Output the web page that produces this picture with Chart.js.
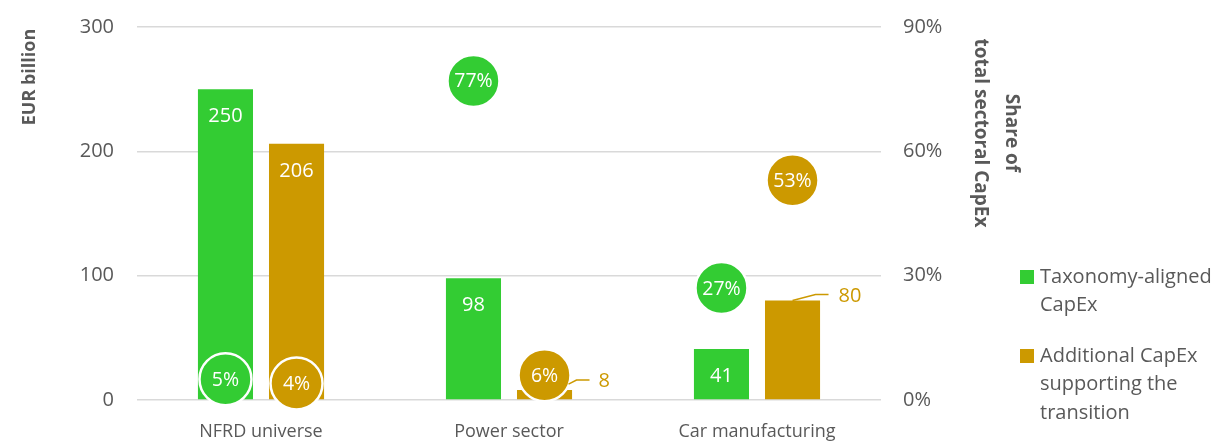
<!DOCTYPE html>
<html>
<head>
<meta charset="utf-8">
<script src="https://cdn.jsdelivr.net/npm/chart.js@4.4.1/dist/chart.umd.min.js"></script>
<style>
  html, body { margin: 0; padding: 0; background: #fff; overflow: hidden; }
  #wrap { position: relative; width: 1220px; height: 460px; }
</style>
</head>
<body>
<div id="wrap"><canvas id="c"></canvas></div>
<script>
// ---- data ----
const categories = ['NFRD universe', 'Power sector', 'Car manufacturing'];
const alignedCapex = [250, 98, 41];          // EUR billion
const additionalCapex = [206, 8, 80];        // EUR billion
const alignedShare = [5, 77, 27];            // % of total sectoral CapEx
const additionalShare = [4, 6, 53];          // % of total sectoral CapEx
const leftTicks = [0, 100, 200, 300];
const rightTicks = [0, 30, 60, 90];
const seriesNames = ['Taxonomy-aligned CapEx', 'Additional CapEx supporting the transition'];

// ---- style ----
const GREEN = '#33CC33';
const GOLD = '#CC9900';
const GREY = '#595959';
const GRID = '#D9D9D9';
const FONT = '"Open Sans", "Noto Sans", sans-serif';

// outside labels with leader lines (dataset index -> data index -> leader shape, px offsets)
const outsideLabels = {
  1: {
    1: { pts: [[24, -6], [32, -10], [45, -10]], text: [54, -9] },
    2: { pts: [[0, 0], [23, -6], [36, -6]], text: [46, -4] }
  }
};

const shareToBar = [[2, 0], [3, 1]];

const alignPlugin = {
  id: 'alignShares',
  afterDatasetsUpdate(chart) {
    shareToBar.forEach(([p, b]) => {
      const pm = chart.getDatasetMeta(p), bm = chart.getDatasetMeta(b);
      pm.data.forEach((pt, i) => { pt.x = bm.data[i].x; });
    });
  }
};

const labelPlugin = {
  id: 'labels',
  afterDatasetsDraw(chart) {
    const ctx = chart.ctx;
    ctx.save();
    // bar labels
    [0, 1].forEach(di => {
      const meta = chart.getDatasetMeta(di);
      const ds = chart.data.datasets[di];
      meta.data.forEach((bar, i) => {
        const val = ds.data[i];
        const out = outsideLabels[di] && outsideLabels[di][i];
        ctx.font = '20px ' + FONT;
        ctx.textBaseline = 'middle';
        if (out) {
          ctx.strokeStyle = ds.backgroundColor;
          ctx.lineWidth = 1.5;
          ctx.beginPath();
          out.pts.forEach(([dx, dy], k) => {
            if (k === 0) ctx.moveTo(bar.x + dx, bar.y + dy); else ctx.lineTo(bar.x + dx, bar.y + dy);
          });
          ctx.stroke();
          ctx.fillStyle = ds.backgroundColor;
          ctx.textAlign = 'left';
          ctx.fillText(String(val), bar.x + out.text[0], bar.y + out.text[1]);
        } else {
          ctx.fillStyle = '#fff';
          ctx.textAlign = 'center';
          ctx.fillText(String(val), bar.x, bar.y + 27);
        }
      });
    });
    // share labels
    [2, 3].forEach(di => {
      const meta = chart.getDatasetMeta(di);
      const ds = chart.data.datasets[di];
      meta.data.forEach((pt, i) => {
        ctx.font = '19.5px ' + FONT;
        ctx.fillStyle = '#fff';
        ctx.textAlign = 'center';
        ctx.textBaseline = 'middle';
        ctx.fillText(ds.data[i] + '%', pt.x, pt.y + 1);
      });
    });
    ctx.restore();
  }
};

const decorPlugin = {
  id: 'decor',
  afterDraw(chart) {
    const ctx = chart.ctx;
    ctx.save();
    ctx.fillStyle = GREY;
    // left axis title
    ctx.font = 'bold 18px ' + FONT;
    ctx.textAlign = 'center';
    ctx.textBaseline = 'middle';
    ctx.save();
    ctx.translate(30, 77);
    ctx.rotate(-Math.PI / 2);
    ctx.fillText('EUR billion', 0, 0);
    ctx.restore();
    // right axis title (two lines, rotated clockwise)
    ctx.font = 'bold 19px ' + FONT;
    ctx.save();
    ctx.translate(996, 133);
    ctx.rotate(Math.PI / 2);
    ctx.fillText('Share of', 0, -15);
    ctx.fillText('total sectoral CapEx', 0, 16);
    ctx.restore();
    // legend
    const legend = [
      { color: GREEN, lines: ['Taxonomy-aligned', 'CapEx'], y: 277 },
      { color: GOLD, lines: ['Additional CapEx', 'supporting the', 'transition'], y: 356 }
    ];
    ctx.font = '20px ' + FONT;
    ctx.textAlign = 'left';
    legend.forEach(item => {
      ctx.fillStyle = item.color;
      ctx.fillRect(1020, item.y - 7, 14, 14);
      ctx.fillStyle = GREY;
      item.lines.forEach((ln, k) => ctx.fillText(ln, 1040, item.y + k * 28.5));
    });
    ctx.restore();
  }
};

function fixVertical(width) {
  return function (s) { s.width = width; s.paddingTop = 0; s.paddingBottom = 0; };
}

new Chart(document.getElementById('c'), {
  data: {
    labels: categories,
    datasets: [
      { type: 'bar', label: seriesNames[0], data: alignedCapex, backgroundColor: GREEN, yAxisID: 'y', order: 2,
        categoryPercentage: 0.573, barPercentage: 0.775, borderWidth: 0 },
      { type: 'bar', label: seriesNames[1], data: additionalCapex, backgroundColor: GOLD, yAxisID: 'y', order: 2,
        categoryPercentage: 0.573, barPercentage: 0.775, borderWidth: 0 },
      { type: 'line', label: seriesNames[0] + ' share', data: alignedShare, yAxisID: 'y1', order: 0, showLine: false,
        pointRadius: 26, pointBackgroundColor: GREEN, pointBorderColor: '#fff', pointBorderWidth: 2.5, clip: false,
        backgroundColor: GREEN },
      { type: 'line', label: seriesNames[1] + ' share', data: additionalShare, yAxisID: 'y1', order: 0, showLine: false,
        pointRadius: 26, pointBackgroundColor: GOLD, pointBorderColor: '#fff', pointBorderWidth: 2.5, clip: false,
        backgroundColor: GOLD }
    ]
  },
  options: {
    responsive: true,
    maintainAspectRatio: false,
    animation: false,
    events: [],
    layout: { autoPadding: false, padding: { left: 0, right: 0, top: 27, bottom: 0 } },
    plugins: { legend: { display: false }, tooltip: { enabled: false } },
    scales: {
      x: {
        grid: { display: false, drawTicks: false },
        border: { display: false },
        ticks: { color: GREY, font: { family: FONT, size: 18 }, padding: 21, maxRotation: 0 },
        afterFit(s) { s.height = 60; }
      },
      y: {
        position: 'left',
        min: 0, max: 300,
        afterBuildTicks(s) { s.ticks = leftTicks.map(v => ({ value: v })); },
        grid: { color: GRID, lineWidth: 1.5, drawTicks: false },
        border: { display: false },
        ticks: { color: GREY, font: { family: FONT, size: 20 }, padding: 23 },
        afterFit: fixVertical(137)
      },
      y1: {
        position: 'right',
        min: 0, max: 90,
        afterBuildTicks(s) { s.ticks = rightTicks.map(v => ({ value: v })); },
        grid: { display: false, drawTicks: false },
        border: { display: false },
        ticks: { color: GREY, font: { family: FONT, size: 20 }, padding: 22, callback: v => v + '%' },
        afterFit: fixVertical(339)
      }
    }
  },
  plugins: [alignPlugin, labelPlugin, decorPlugin]
});
</script>
</body>
</html>
